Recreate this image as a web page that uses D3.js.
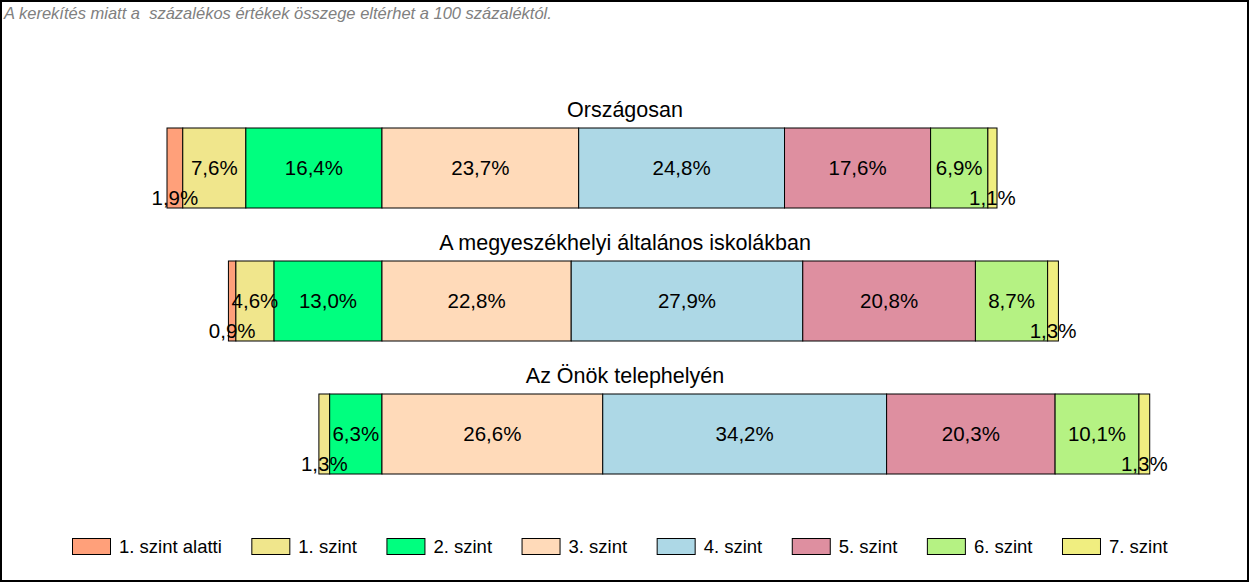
<!DOCTYPE html>
<html>
<head>
<meta charset="utf-8">
<script src="https://cdn.jsdelivr.net/npm/d3@7"></script>
<style>
  body { margin: 0; background: #fff; }
  svg { display: block; font-family: "Liberation Sans", Arial, sans-serif; }
</style>
</head>
<body>
<div id="chart"></div>
<script>
// Data
const groups = ['Országosan', 'A megyeszékhelyi általános iskolákban', 'Az Önök telephelyén'];
const levels = ['1. szint alatti', '1. szint', '2. szint', '3. szint', '4. szint', '5. szint', '6. szint', '7. szint'];
const colors = ['#FFA07A', '#F0E68C', '#00FF7F', '#FFDAB9', '#ADD8E6', '#DE8FA0', '#B5F283', '#F0EE80'];
const orszagos = [1.9, 7.6, 16.4, 23.7, 24.8, 17.6, 6.9, 1.1];
const megyeszekhely = [0.9, 4.6, 13.0, 22.8, 27.9, 20.8, 8.7, 1.3];
const telephely = [0, 1.3, 6.3, 26.6, 34.2, 20.3, 10.1, 1.3];
const series = [orszagos, megyeszekhely, telephely];
const note = 'A kerekítés miatt a  százalékos értékek összege eltérhet a 100 százaléktól.';

const width = 1250, height = 583;
const svg = d3.select('#chart').append('svg')
    .attr('width', width)
    .attr('height', height);

svg.append('rect')
    .attr('x', 1).attr('y', 1)
    .attr('width', width - 3).attr('height', height - 3)
    .attr('fill', '#fff')
    .attr('stroke', '#000')
    .attr('stroke-width', 2);

svg.append('text')
    .attr('x', 4).attr('y', 19)
    .attr('font-size', 16.5)
    .attr('font-style', 'italic')
    .attr('fill', '#808080')
    .style('white-space', 'pre')
    .text(note);

// bars are aligned on the boundary between 2. and 3. szint (value 0)
const x = d3.scaleLinear().domain([-25.9, 74.1]).range([167, 997]);
const y = d3.scaleBand().domain(groups).range([95, 494]);
const barHeight = 80;

groups.forEach((g, gi) => {
    const vals = series[gi];
    const below = d3.sum(vals.slice(0, 3));
    let acc = -below;
    const segs = vals.map((v, i) => {
        const s = { level: levels[i], value: v, start: acc, end: acc + v, color: colors[i] };
        acc += v;
        return s;
    }).filter(d => d.value > 0);

    const top = y(g) + 33;
    const grp = svg.append('g');

    grp.append('text')
        .attr('x', 625)
        .attr('y', y(g) + 22)
        .attr('font-size', 21.5)
        .style('text-anchor', 'middle')
        .attr('fill', '#000')
        .text(g);

    grp.selectAll('rect.seg').data(segs)
        .enter().append('rect')
        .attr('class', 'seg')
        .attr('x', d => x(d.start))
        .attr('y', top)
        .attr('width', d => x(d.end) - x(d.start))
        .attr('height', barHeight)
        .attr('fill', d => d.color)
        .attr('stroke', '#000')
        .attr('stroke-width', 1);

    grp.selectAll('text.lbl').data(segs)
        .enter().append('text')
        .attr('class', 'lbl')
        .attr('x', d => (x(d.start) + x(d.end)) / 2)
        .attr('y', d => d.value < 2 ? top + 77 : top + 40)
        .attr('dy', d => d.value < 2 ? 0 : '0.35em')
        .attr('font-size', 20.5)
        .style('text-anchor', 'middle')
        .attr('fill', '#000')
        .text(d => d.value.toFixed(1).replace('.', ',') + '%');
});

// Legend
const legend = svg.append('g').attr('transform', 'translate(72, 538)');
let lx = 0;
levels.forEach((l, i) => {
    const item = legend.append('g').attr('transform', `translate(${lx}, 0)`);
    item.append('rect')
        .attr('x', 0.5).attr('y', 0.5)
        .attr('width', 38).attr('height', 16)
        .attr('fill', colors[i])
        .attr('stroke', '#000');
    const t = item.append('text')
        .attr('x', 47).attr('y', 15)
        .attr('font-size', 18.5)
        .attr('fill', '#000')
        .text(l);
    lx += 47 + t.node().getComputedTextLength() + 29.5;
});
</script>
</body>
</html>
